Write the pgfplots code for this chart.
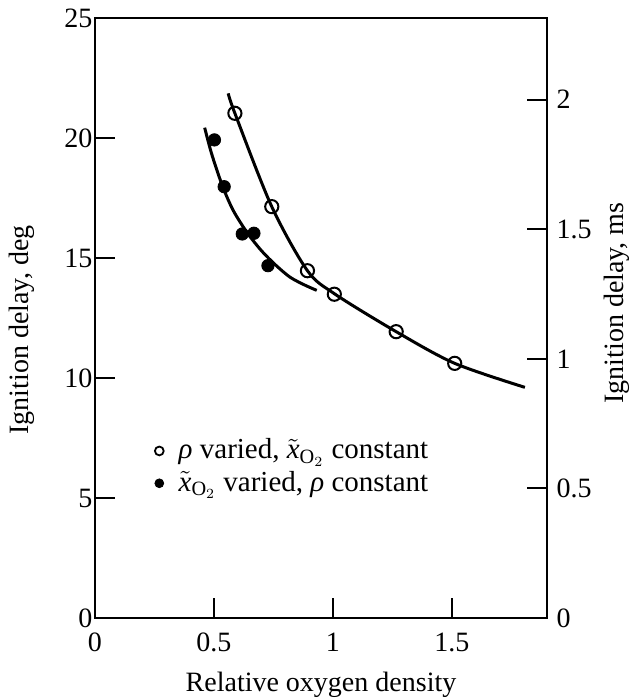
\documentclass[border=0pt]{standalone}
\usepackage{pgfplots}
\pgfplotsset{compat=1.18}
\usepackage{fontspec}
\setmainfont{Liberation Serif}
\begin{document}
\fontsize{14}{17}\selectfont
\begin{tikzpicture}
\begin{axis}[
  name=main,
  scale only axis, width=226pt, height=300pt,
  xmin=0, xmax=1.9, ymin=0, ymax=25,
  xtick={0,0.5,1,1.5}, ytick={0,5,10,15,20,25},
  xticklabels={0,0.5,1,1.5},
  tick pos=left, tick align=inside,
  major tick length=10pt,
  axis line style={line width=1pt},
  every tick/.style={line width=1pt, black},
  /pgf/number format/assume math mode=true,
  ticklabel style={font=\fontsize{14}{17}\selectfont},
  xticklabel style={yshift=-2.5pt},
  yticklabel style={xshift=3.5pt},
  ylabel={Ignition delay, deg},
  xlabel={Relative oxygen density},
  label style={font=\fontsize{14}{17}\selectfont},
  every axis y label/.style={at={(rel axis cs:0,0.48)}, xshift=-36.5pt, rotate=90, anchor=center},
  every axis x label/.style={at={(rel axis cs:0.5,0)}, yshift=-33.5pt, anchor=center},
  legend style={at={(rel axis cs:0.129,0.306)}, anchor=north west, draw=none, fill=none,
    font=\fontsize{14.5}{17}\selectfont, row sep=0pt, inner sep=0pt},
  legend cell align=left,
  legend image code/.code={\path[draw=none] (0pt,0pt) -- (10.5pt,0pt); \draw[#1] plot coordinates {(2.8pt,0pt)};},
]
% fitted curves
\addplot[smooth, line width=1.5pt, forget plot] coordinates {
  (0.560,21.86) (0.588,21.03) (0.743,17.14) (0.893,14.47) (1.008,13.50)
  (1.266,11.93) (1.512,10.61) (1.807,9.61)};
\addplot[smooth, line width=1.5pt, forget plot] coordinates {
  (0.461,20.43) (0.49,19.35) (0.534,18.05) (0.58,17.0) (0.64,16.05) (0.70,15.3)
  (0.76,14.7) (0.82,14.2) (0.88,13.88) (0.932,13.65)};
% data
\addplot[only marks, mark=o, mark size=3.3pt, line width=1pt, mark options={fill=white}, forget plot] coordinates {
  (0.588,21.03) (0.743,17.14) (0.893,14.47) (1.006,13.49) (1.266,11.93) (1.512,10.61)};
\addplot[only marks, mark=*, mark size=3.1pt, forget plot] coordinates {
  (0.502,19.92) (0.543,17.97) (0.619,16.00) (0.668,16.03) (0.727,14.68)};
\addlegendimage{only marks, mark=o, mark size=2.2pt, line width=0.9pt}
\addlegendentry{\textit{ρ} varied, $\tilde{\textit{x}}_{\mathrm{O}_2}$ constant}
\addlegendimage{only marks, mark=*, mark size=2.2pt}
\addlegendentry{$\tilde{\textit{x}}_{\mathrm{O}_2}$ varied, \textit{ρ} constant}
\end{axis}
\begin{axis}[
  scale only axis, width=226pt, height=300pt,
  xmin=0, xmax=1.9, ymin=0, ymax=2.3148,
  axis x line=none, axis y line*=right,
  ytick={0,0.5,1,1.5,2}, yticklabels={0,0.5,1,1.5,2},
  tick align=inside, major tick length=10pt,
  axis line style={line width=1pt},
  every tick/.style={line width=1pt, black},
  /pgf/number format/assume math mode=true,
  ticklabel style={font=\fontsize{14}{17}\selectfont},
  ylabel={Ignition delay, ms},
  every axis y label/.style={at={(rel axis cs:1,0.525)}, xshift=35pt, rotate=90, anchor=center, font=\fontsize{14}{17}\selectfont},
]
\end{axis}
\pgfresetboundingbox
\path ([shift={(-47.5pt,-40.5pt)}]main.south west) rectangle ([shift={(46.5pt,9pt)}]main.north east);
\end{tikzpicture}
\end{document}
